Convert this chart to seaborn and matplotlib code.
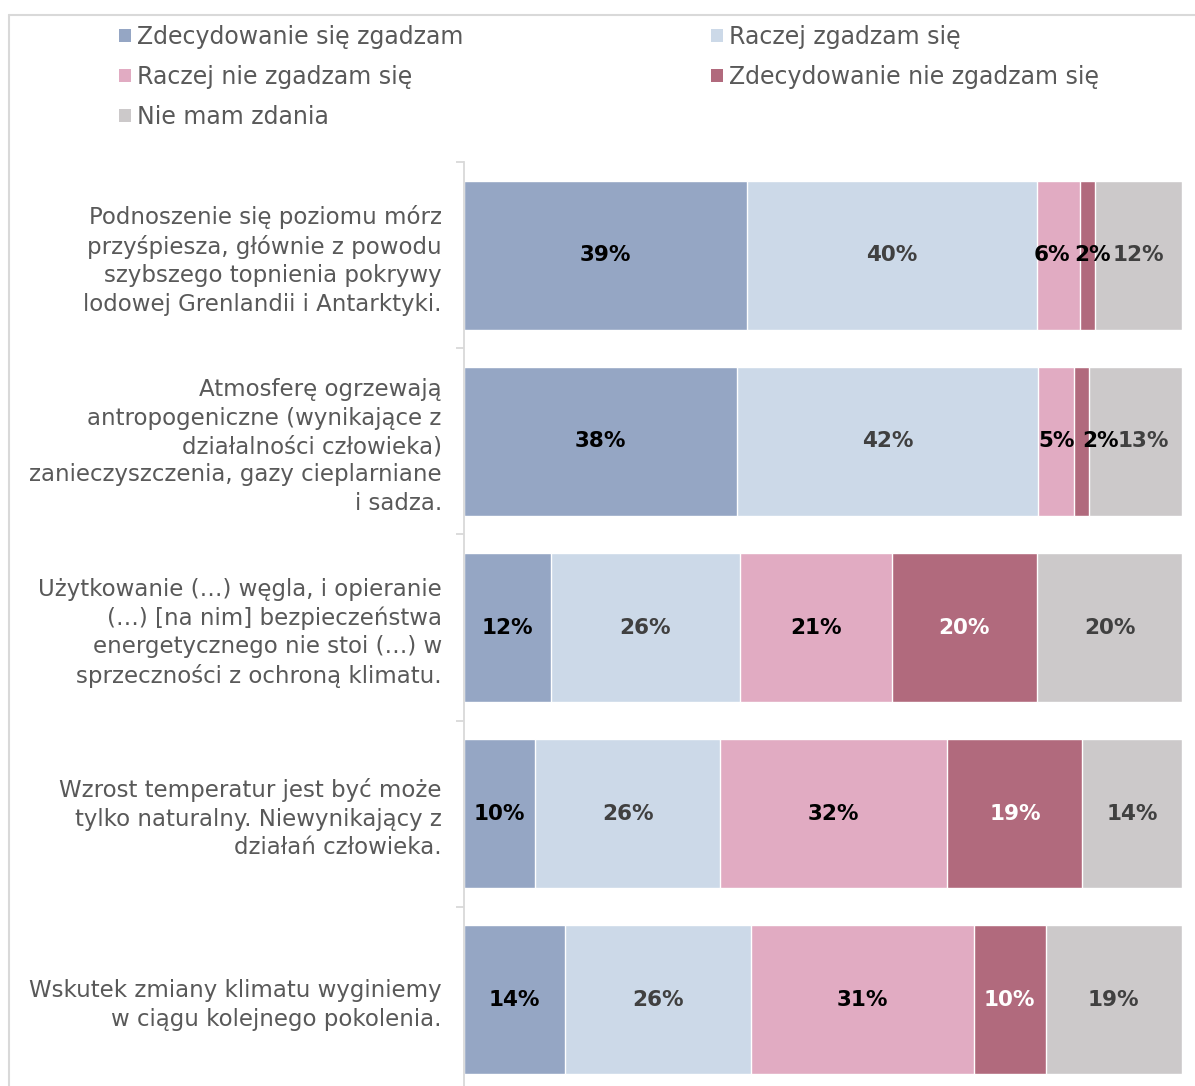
import numpy as np
import pandas as pd
import seaborn as sns
import matplotlib.pyplot as plt
from matplotlib.patches import Patch
from matplotlib.lines import Line2D

# dane
statements = [
    "Podnoszenie się poziomu mórz\nprzyśpiesza, głównie z powodu\nszybszego topnienia pokrywy\nlodowej Grenlandii i Antarktyki.",
    "Atmosferę ogrzewają\nantropogeniczne (wynikające z\ndziałalności człowieka)\nzanieczyszczenia, gazy cieplarniane\ni sadza.",
    "Użytkowanie (…) węgla, i opieranie\n(…) [na nim] bezpieczeństwa\nenergetycznego nie stoi (…) w\nsprzeczności z ochroną klimatu.",
    "Wzrost temperatur jest być może\ntylko naturalny. Niewynikający z\ndziałań człowieka.",
    "Wskutek zmiany klimatu wyginiemy\nw ciągu kolejnego pokolenia.",
]
answers = [
    "Zdecydowanie się zgadzam",
    "Raczej zgadzam się",
    "Raczej nie zgadzam się",
    "Zdecydowanie nie zgadzam się",
    "Nie mam zdania",
]
zdecydowanie_tak = [39, 38, 12, 10, 14]
raczej_tak = [40, 42, 26, 26, 26]
raczej_nie = [6, 5, 21, 32, 31]
zdecydowanie_nie = [2, 2, 20, 19, 10]
brak_zdania = [12, 13, 20, 14, 19]

colors = ["#95A6C4", "#CCD9E8", "#E1ABC2", "#B16A7D", "#CCC9CA"]
label_colors = ["#000000", "#404040", "#000000", "#FFFFFF", "#404040"]

# przesunięcia etykiet w wąskich segmentach (w px), tak jak w oryginale
nudge = {(2, 0): -7, (3, 0): 5, (3, 1): 19, (4, 1): 8}

vals = np.array([zdecydowanie_tak, raczej_tak, raczej_nie, zdecydowanie_nie, brak_zdania], dtype=float)
# 100% skumulowane - normalizacja do sumy w wierszu
shares = vals / vals.sum(axis=0)
cum = np.cumsum(shares, axis=0)

sns.set_theme(style="white")
plt.rcParams["font.family"] = ["DejaVu Sans"]

fig = plt.figure(figsize=(11.95, 10.86), dpi=100)
ax = fig.add_axes([464 / 1195, 1 - 1093 / 1086, 718 / 1195, (1093 - 162) / 1086])

# rysowanie sum skumulowanych od końca, kolejne nakładają się na poprzednie
for k in range(len(answers) - 1, -1, -1):
    df = pd.DataFrame({"stmt": statements, "val": cum[k]})
    sns.barplot(data=df, x="val", y="stmt", orient="h", color=colors[k],
                saturation=1, width=0.8, ax=ax)

# etykiety wartości
for k in range(len(answers)):
    for i in range(len(statements)):
        center = cum[k, i] - shares[k, i] / 2
        col = label_colors[k]
        if k == 3 and vals[k, i] < 5:
            col = "#000000"
        dx = nudge.get((k, i), 0) * 0.72
        ax.annotate(f"{int(vals[k, i])}%", (center, i), xytext=(dx, 0),
                    textcoords="offset points", ha="center", va="center",
                    fontsize=15.5, fontweight="bold", color=col)

ax.set_xlim(0, 1)
ax.set_ylim(len(statements) - 0.5, -0.5)
ax.set_xlabel("")
ax.set_ylabel("")
ax.set_xticks([])
for s in ["top", "right", "bottom"]:
    ax.spines[s].set_visible(False)
ax.spines["left"].set_color("#D9D9D9")
ax.spines["left"].set_linewidth(1.3)
ax.set_yticks(np.arange(-0.5, len(statements), 1), minor=True)
ax.tick_params(axis="y", which="minor", length=6, width=1.3, color="#D9D9D9", left=True)
ax.tick_params(axis="y", which="major", length=0, pad=16, labelsize=16.5, labelcolor="#595959")
for t in ax.get_yticklabels():
    t.set_linespacing(1.3)

# legenda w dwóch kolumnach (wiersz po wierszu)
handles = [Patch(facecolor=c, edgecolor="none") for c in colors]
leg_kw = dict(frameon=False, fontsize=17, labelcolor="#595959", handlelength=0.5,
              handleheight=0.5, handletextpad=0.25, labelspacing=0.68, borderaxespad=0,
              borderpad=0, loc="upper left")
fig.legend([handles[0], handles[2], handles[4]], [answers[0], answers[2], answers[4]],
           bbox_to_anchor=(119 / 1195, 1 - 25 / 1086), **leg_kw)
fig.legend([handles[1], handles[3]], [answers[1], answers[3]],
           bbox_to_anchor=(711 / 1195, 1 - 25 / 1086), **leg_kw)

# ramka wykresu
fig.add_artist(Line2D([9 / 1195, 1], [1 - 15 / 1086, 1 - 15 / 1086], color="#D9D9D9", lw=1.5))
fig.add_artist(Line2D([9 / 1195, 9 / 1195], [0, 1 - 15 / 1086], color="#D9D9D9", lw=1.5))

fig.savefig("out.png", dpi=100)
